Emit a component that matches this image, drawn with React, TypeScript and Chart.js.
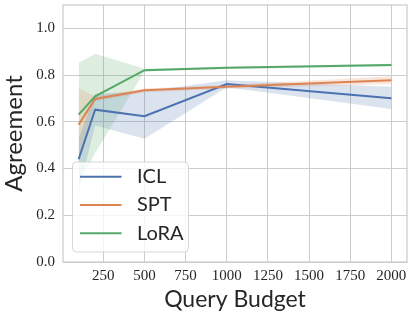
import React, { useEffect, useRef } from "react";
import { Chart, registerables } from "chart.js";
Chart.register(...registerables);

const budgets = [100, 200, 500, 1000, 2000];
const seriesNames = ["ICL", "SPT", "LoRA"];
const iclMean = [0.44, 0.652, 0.624, 0.762, 0.701];
const iclLow = [0.3, 0.584, 0.528, 0.748, 0.655];
const iclHigh = [0.53, 0.72, 0.73, 0.778, 0.75];
const sptMean = [0.588, 0.698, 0.735, 0.75, 0.778];
const sptLow = [0.43, 0.688, 0.727, 0.742, 0.762];
const sptHigh = [0.745, 0.708, 0.743, 0.758, 0.795];
const loraMean = [0.631, 0.709, 0.821, 0.831, 0.843];
const loraLow = [0.33, 0.466, 0.815, 0.826, 0.837];
const loraHigh = [0.853, 0.891, 0.827, 0.836, 0.849];
const xTickValues = [250, 500, 750, 1000, 1250, 1500, 1750, 2000];
const yTickValues = [0, 0.2, 0.4, 0.6, 0.8, 1.0];

const colors = ["#4c72b0", "#dd8452", "#55a868"];
const bandColors = ["rgba(76,114,176,0.2)", "rgba(221,132,82,0.2)", "rgba(85,168,104,0.2)"];

const pts = (ys: number[]) => budgets.map((x, i) => ({ x, y: ys[i] }));

export default function App() {
  const ref = useRef<HTMLCanvasElement | null>(null);
  useEffect(() => {
    if (!ref.current) return;
    const means = [iclMean, sptMean, loraMean];
    const lows = [iclLow, sptLow, loraLow];
    const highs = [iclHigh, sptHigh, loraHigh];
    const datasets: any[] = [];
    for (let s = 0; s < 3; s++) {
      const lowIdx = datasets.length;
      datasets.push({
        label: seriesNames[s] + " low",
        data: pts(lows[s]),
        borderWidth: 0,
        borderColor: "rgba(0,0,0,0)",
        pointRadius: 0,
        fill: false,
        order: 5,
      });
      datasets.push({
        label: seriesNames[s] + " high",
        data: pts(highs[s]),
        borderWidth: 0,
        borderColor: "rgba(0,0,0,0)",
        backgroundColor: bandColors[s],
        pointRadius: 0,
        fill: lowIdx,
        order: 5,
      });
    }
    for (let s = 0; s < 3; s++) {
      datasets.push({
        label: seriesNames[s],
        data: pts(means[s]),
        borderColor: colors[s],
        borderWidth: 2,
        pointRadius: 0,
        fill: false,
        order: 3 - s,
      });
    }

    const frame = {
      id: "frame",
      afterDraw(chart: any) {
        const { ctx, chartArea: a } = chart;
        ctx.save();
        ctx.strokeStyle = "#cccccc";
        ctx.lineWidth = 1.25;
        ctx.strokeRect(a.left, a.top, a.right - a.left, a.bottom - a.top);
        const bx = a.left + 9.5, by = a.bottom - 100, bw = 116, bh = 90, r = 4;
        ctx.beginPath();
        ctx.moveTo(bx + r, by);
        ctx.lineTo(bx + bw - r, by);
        ctx.quadraticCurveTo(bx + bw, by, bx + bw, by + r);
        ctx.lineTo(bx + bw, by + bh - r);
        ctx.quadraticCurveTo(bx + bw, by + bh, bx + bw - r, by + bh);
        ctx.lineTo(bx + r, by + bh);
        ctx.quadraticCurveTo(bx, by + bh, bx, by + bh - r);
        ctx.lineTo(bx, by + r);
        ctx.quadraticCurveTo(bx, by, bx + r, by);
        ctx.closePath();
        ctx.fillStyle = "rgba(255,255,255,0.8)";
        ctx.fill();
        ctx.strokeStyle = "rgba(204,204,204,0.8)";
        ctx.lineWidth = 1;
        ctx.stroke();
        ctx.font = "20px Lato";
        ctx.textBaseline = "middle";
        for (let s = 0; s < 3; s++) {
          const yy = by + 14.7 + s * 28.3;
          ctx.strokeStyle = colors[s];
          ctx.lineWidth = 2;
          ctx.beginPath();
          ctx.moveTo(bx + 7.5, yy);
          ctx.lineTo(bx + 49, yy);
          ctx.stroke();
          ctx.fillStyle = "#262626";
          ctx.fillText(seriesNames[s], bx + 64.5, yy);
        }
        ctx.restore();
      },
    };

    const chart = new Chart(ref.current, {
      type: "line",
      data: { datasets },
      plugins: [frame],
      options: {
        animation: false,
        responsive: true,
        maintainAspectRatio: false,
        layout: { padding: { top: 5, right: 8, left: 0, bottom: 0 } },
        plugins: {
          legend: { display: false },
          tooltip: { enabled: false },
          filler: { drawTime: "beforeDatasetsDraw" } as any,
        },
        scales: {
          x: {
            type: "linear",
            min: 5,
            max: 2095,
            afterBuildTicks: (sc: any) => {
              sc.ticks = xTickValues.map((v) => ({ value: v }));
            },
            afterFit: (sc: any) => {
              sc.height = 57;
              sc.paddingLeft = 0;
              sc.paddingRight = 0;
            },
            grid: { color: "#cccccc", lineWidth: 1, drawTicks: false },
            border: { display: false },
            ticks: {
              padding: 5,
              maxRotation: 0,
              autoSkip: false,
              color: "#262626",
              font: { family: "Liberation Serif", size: 15 },
              callback: (v: any) => String(v),
            },
            title: {
              display: true,
              text: "Query Budget",
              color: "#262626",
              font: { family: "Lato", size: 23 },
              padding: { top: 0, bottom: 6 },
            },
          },
          y: {
            type: "linear",
            min: 0,
            max: 1.1,
            afterBuildTicks: (sc: any) => {
              sc.ticks = yTickValues.map((v) => ({ value: v }));
            },
            afterFit: (sc: any) => {
              sc.width = 63;
              sc.paddingTop = 0;
              sc.paddingBottom = 0;
            },
            grid: { color: "#cccccc", lineWidth: 1, drawTicks: false },
            border: { display: false },
            ticks: {
              padding: 8,
              color: "#262626",
              font: { family: "Liberation Serif", size: 15 },
              callback: (v: any) => Number(v).toFixed(1),
            },
            title: {
              display: true,
              text: "Agreement",
              color: "#262626",
              font: { family: "Lato", size: 24 },
              padding: { top: 0, bottom: 0 },
            },
          },
        },
      },
    });
    return () => chart.destroy();
  }, []);
  return (
    <div style={{ position: "fixed", left: 0, top: 0, width: 415, height: 319, background: "#fff" }}>
      <canvas ref={ref} />
    </div>
  );
}
